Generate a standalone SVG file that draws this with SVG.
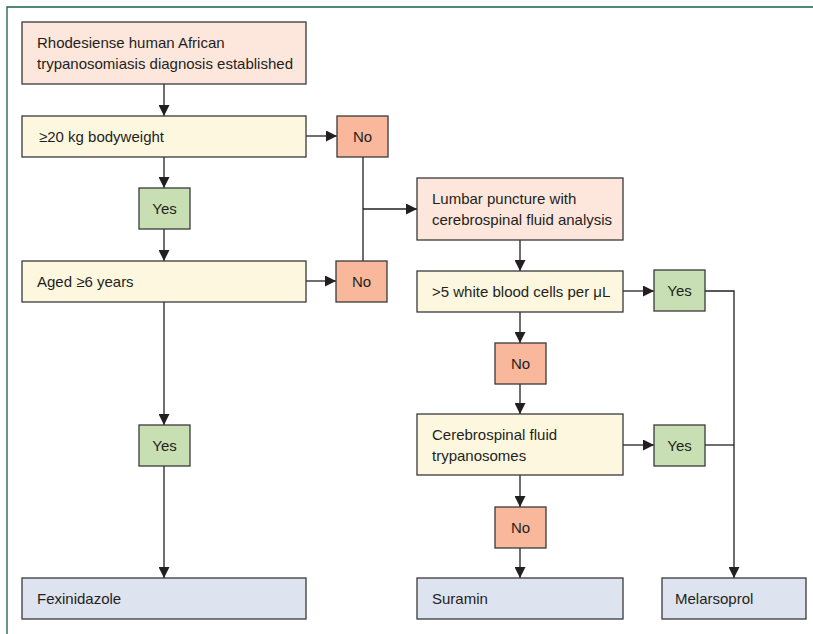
<svg xmlns="http://www.w3.org/2000/svg" width="813" height="634" viewBox="0 0 813 634">
<defs>
<marker id="ah" viewBox="0 0 10 10" refX="10" refY="5" markerWidth="11" markerHeight="11" markerUnits="userSpaceOnUse" orient="auto">
<path d="M0,0 L10,5 L0,10 Z" fill="#231f20"/>
</marker>
</defs>
<style>
.b{stroke:#3a3a3a;stroke-width:1.3}
.start{fill:#fde6dc}
.q{fill:#fdf7e0}
.no{fill:#f9b89b}
.yes{fill:#c8dfb3}
.end{fill:#dde3ef}
text{font-family:"Liberation Sans",Arial,sans-serif;font-size:15px;fill:#231f20}
.c{text-anchor:middle}
.ln{stroke:#231f20;stroke-width:1.3;fill:none}
.ar{marker-end:url(#ah)}
</style>
<rect width="813" height="634" fill="#ffffff"/>
<path d="M7,634 L7,7 L813,7" fill="none" stroke="#1a6046" stroke-width="1.3"/>
<g id="connectors">
<line class="ln ar" x1="164" y1="84" x2="164" y2="116"/>
<line class="ln ar" x1="306" y1="136" x2="337" y2="136"/>
<line class="ln ar" x1="164" y1="157" x2="164" y2="188"/>
<line class="ln ar" x1="164" y1="229" x2="164" y2="261"/>
<line class="ln ar" x1="306" y1="281" x2="336" y2="281"/>
<line class="ln" x1="363" y1="157" x2="363" y2="261"/>
<line class="ln ar" x1="363" y1="209" x2="417" y2="209"/>
<line class="ln ar" x1="164" y1="302" x2="164" y2="425"/>
<line class="ln ar" x1="164" y1="466" x2="164" y2="578"/>
<line class="ln ar" x1="520" y1="240" x2="520" y2="271"/>
<line class="ln ar" x1="623" y1="291" x2="654" y2="291"/>
<polyline class="ln ar" points="705,291 734,291 734,578"/>
<line class="ln ar" x1="520" y1="312" x2="520" y2="343"/>
<line class="ln ar" x1="520" y1="384" x2="520" y2="414"/>
<line class="ln ar" x1="623" y1="445" x2="654" y2="445"/>
<line class="ln" x1="705" y1="445" x2="734" y2="445"/>
<line class="ln ar" x1="520" y1="475" x2="520" y2="507"/>
<line class="ln ar" x1="520" y1="548" x2="520" y2="578"/>
</g>
<g id="diagnosis"><rect class="b start" x="22" y="22" width="284" height="62"/><text x="37" y="48">Rhodesiense human African</text><text x="37" y="69">trypanosomiasis diagnosis established</text></g>
<g id="weight"><rect class="b q" x="22" y="116" width="284" height="41"/><text x="39" y="142">≥20 kg bodyweight</text></g>
<g id="no1"><rect class="b no" x="337" y="116" width="51" height="41"/><text class="c" x="362.5" y="142">No</text></g>
<g id="yes1"><rect class="b yes" x="139" y="188" width="51" height="41"/><text class="c" x="164.5" y="214">Yes</text></g>
<g id="age"><rect class="b q" x="22" y="261" width="284" height="41"/><text x="37" y="287">Aged ≥6 years</text></g>
<g id="no2"><rect class="b no" x="336" y="261" width="51" height="41"/><text class="c" x="361.5" y="287">No</text></g>
<g id="lumbar"><rect class="b start" x="417" y="178" width="206" height="62"/><text x="432" y="204">Lumbar puncture with</text><text x="432" y="225">cerebrospinal fluid analysis</text></g>
<g id="wbc"><rect class="b q" x="417" y="271" width="206" height="41"/><text x="432" y="297">&gt;5 white blood cells per μL</text></g>
<g id="yes2"><rect class="b yes" x="654" y="270" width="51" height="41"/><text class="c" x="679.5" y="296">Yes</text></g>
<g id="no3"><rect class="b no" x="495" y="343" width="51" height="41"/><text class="c" x="520.5" y="369">No</text></g>
<g id="csf"><rect class="b q" x="417" y="414" width="206" height="61"/><text x="432" y="440">Cerebrospinal fluid</text><text x="432" y="461">trypanosomes</text></g>
<g id="yes3"><rect class="b yes" x="654" y="425" width="51" height="41"/><text class="c" x="679.5" y="451">Yes</text></g>
<g id="yes4"><rect class="b yes" x="139" y="425" width="51" height="41"/><text class="c" x="164.5" y="451">Yes</text></g>
<g id="no4"><rect class="b no" x="495" y="507" width="51" height="41"/><text class="c" x="520.5" y="533">No</text></g>
<g id="fexinidazole"><rect class="b end" x="22" y="578" width="284" height="41"/><text x="37" y="604">Fexinidazole</text></g>
<g id="suramin"><rect class="b end" x="417" y="578" width="206" height="41"/><text x="432" y="604">Suramin</text></g>
<g id="melarsoprol"><rect class="b end" x="662" y="578" width="144" height="41"/><text x="675" y="604">Melarsoprol</text></g>
</svg>
